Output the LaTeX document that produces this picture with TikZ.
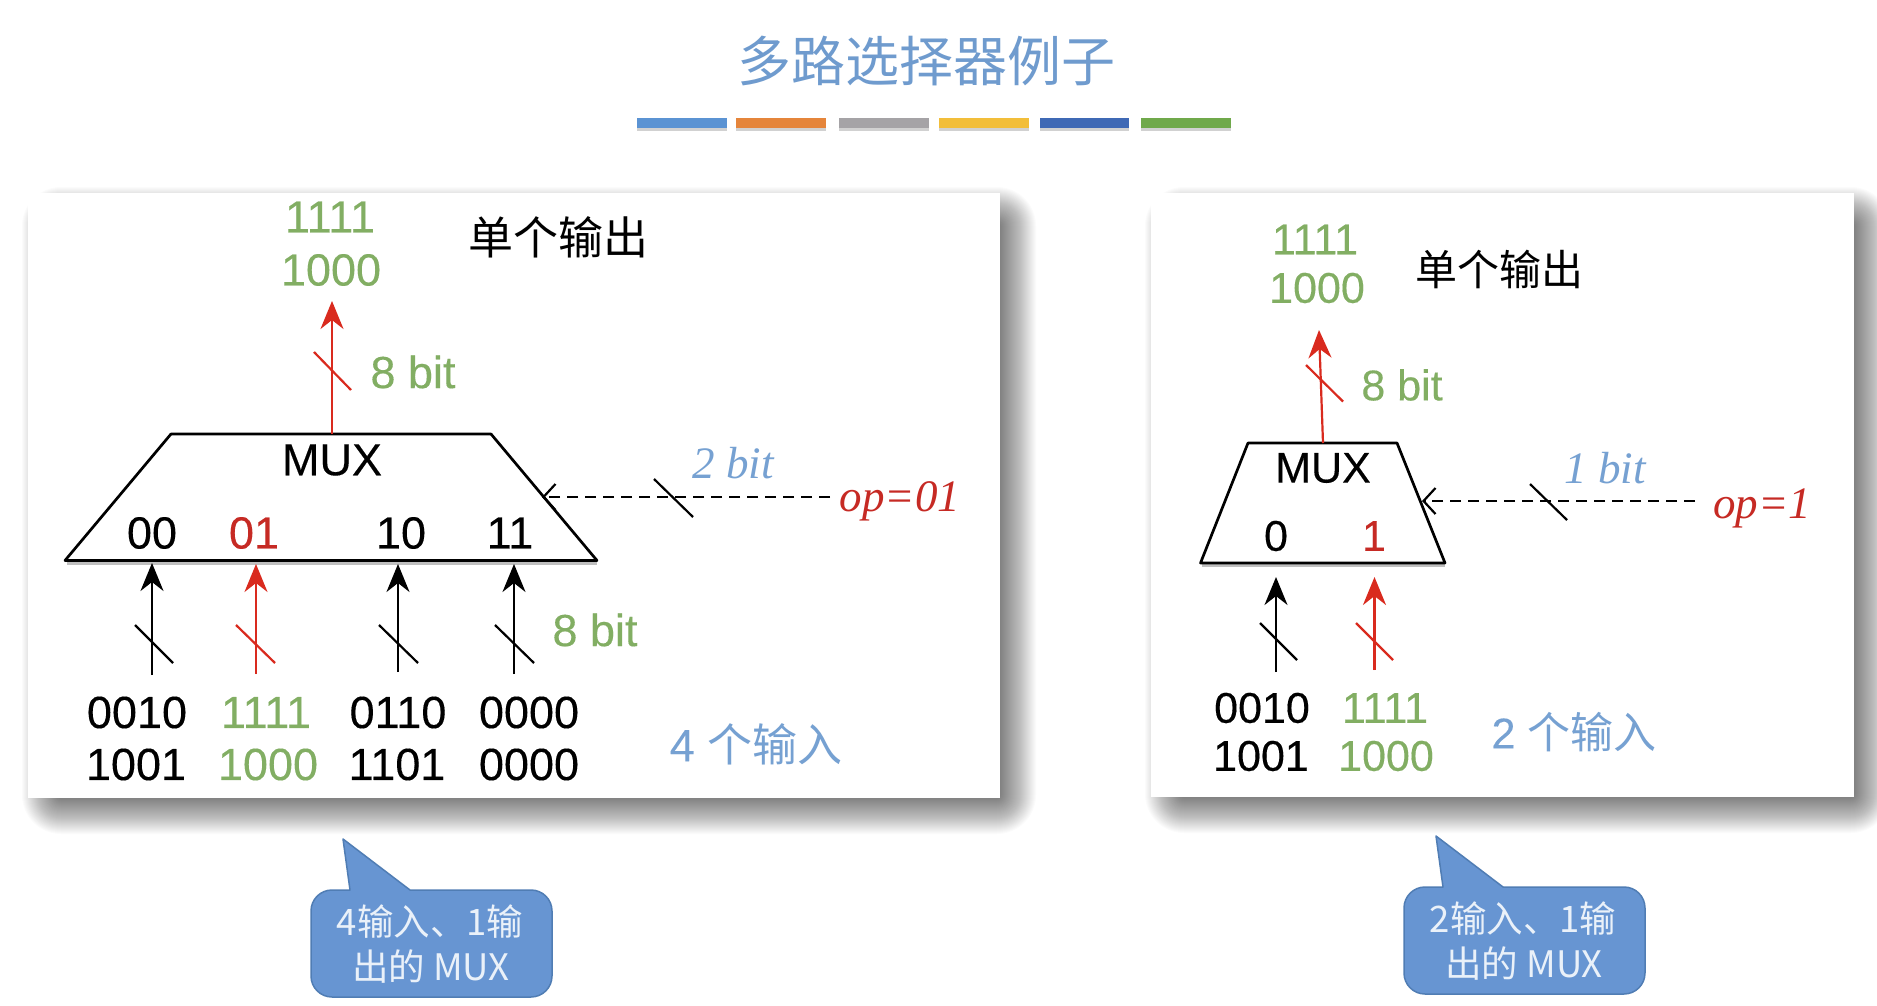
\documentclass[tikz,border=0pt]{standalone}
\usepackage{fontspec}
\setmainfont{Liberation Sans}
\newfontfamily\heavy[FakeBold=0.25]{Liberation Sans}
\newfontfamily\cjk{Noto Sans CJK SC}
\newfontfamily\serifit[ItalicFont={Liberation Serif Italic}]{Liberation Serif}
\usetikzlibrary{arrows.meta}
\definecolor{tblue}{HTML}{6F9BCE}
\definecolor{lblue}{HTML}{76A1D2}
\definecolor{tgreen}{HTML}{82AE63}
\definecolor{ared}{HTML}{D92A1E}
\definecolor{tred}{HTML}{C62A24}
\definecolor{cfill}{HTML}{6795D2}
\definecolor{cedge}{HTML}{507DB4}
\definecolor{ctext}{HTML}{EAF1F9}
\tikzset{
  lab/.style={inner sep=0pt,font=\heavy\fontsize{45}{50}\selectfont},
  labr/.style={inner sep=0pt,font=\heavy\fontsize{43}{48}\selectfont},
  cn/.style={inner sep=0pt,font=\cjk\fontsize{45}{50}\selectfont},
  cnr/.style={inner sep=0pt,font=\cjk\fontsize{42}{48}\selectfont},
  itl/.style={inner sep=0pt,font=\serifit\itshape\fontsize{45}{50}\selectfont},
  trap/.style={draw=black,line width=2.7pt,line join=round},
  wire/.style={line width=2.2pt,-{Stealth[length=28pt,width=23pt,inset=9pt]}},
  ctl/.style={line width=2.4pt,dashed,dash pattern=on 11pt off 7pt,-{Straight Barb[length=12pt,width=26pt,line width=2.2pt]}},
  slash/.style={line width=2.2pt},
  callout/.style={draw=cedge,fill=cfill,line width=1.5pt},
  calltext/.style={inner sep=0pt,text=ctext,font=\cjk\fontsize{36.5}{40}\selectfont}
}
\newcommand{\panelshadow}[4]{%
  \foreach \d in {1,2,...,36}{
    \fill[black,opacity=.016,rounded corners={\d*1pt+3pt}] ({#1+30-\d},{#2+30-\d}) rectangle ({#3+\d},{#4+\d});
  }
  \fill[white] (#1,#2) rectangle (#3,#4);
}
\begin{document}
\begin{tikzpicture}[x=1pt,y=-1pt]
\useasboundingbox (0,0) rectangle (1877,1006);
\fill[white] (0,0) rectangle (1877,1006);
% title
\node[inner sep=0pt,text=tblue,font=\cjk\fontsize{54}{60}\selectfont] (title) at (926,61) {多路选择器例子};
\foreach \a/\b/\c in {637/727/5B93D3,736/826/E5853B,839/929/A5A3A6,939/1029/F2BE3A,1040/1129/3F69B5,1141/1231/70A94B}{
  \fill[black!18] (\a,127) rectangle (\b,131);
  \definecolor{barc}{HTML}{\c}
  \fill[barc] (\a,118.5) rectangle (\b,128.5);
}
% panels
\panelshadow{28}{193}{1000}{798}
\panelshadow{1151}{193}{1854}{797}

% ---------- left MUX ----------
\fill[black!25] (67,561) rectangle (597,565);
\coordinate (LBL) at (65,560.5);
\coordinate (LBR) at (597,560.5);
\coordinate (LTL) at (171,434);
\coordinate (LTR) at (491,434);
\draw[trap] (LBL) -- (LTL) -- (LTR) -- (LBR) -- cycle;
\node[lab] (lmux) at (332,460) {MUX};
\node[lab] (l00) at (152,533) {00};
\node[lab,text=tred] (l01) at (254,533) {01};
\node[lab] (l10) at (401,533) {10};
\node[lab] (l11) at (510,533) {11};
\node[lab,text=tgreen] (lo1) at (330,217) {1111};
\node[lab,text=tgreen] (lo2) at (331,270) {1000};
\node[cn] (lsingle) at (558,237) {单个输出};
\node[lab,text=tgreen] (lb8a) at (413,372) {8 bit};
\node[lab,text=tgreen] (lb8b) at (595,630) {8 bit};
\node[lab] (li1a) at (137,712.5) {0010};
\node[lab] (li1b) at (136,764.5) {1001};
\node[lab,text=tgreen] (li2a) at (266,712.5) {1111};
\node[lab,text=tgreen] (li2b) at (268,764.5) {1000};
\node[lab] (li3a) at (398,712.5) {0110};
\node[lab] (li3b) at (397,764.5) {1101};
\node[lab] (li4a) at (529,712.5) {0000};
\node[lab] (li4b) at (529,764.5) {0000};
\node[lab,text=lblue] (lcnt) at (756,744) {4 {\cjk 个输入}};
\node[itl,text=lblue] (l2bit) at (733,463) {2 bit};
\node[itl,text=tred] (lop) at (900,501) {op=01};
% left wires
\coordinate (lout0) at (332,434); \coordinate (lout1) at (332,301);
\draw[wire,draw=ared,fill=ared] (lout0) -- (lout1);
\draw[slash,ared] (314,352) -- (351,390);
\coordinate (lw1a) at (152,675); \coordinate (lw1b) at (152,563);
\coordinate (lw2a) at (256,674); \coordinate (lw2b) at (256,564);
\coordinate (lw3a) at (398,672); \coordinate (lw3b) at (398,564);
\coordinate (lw4a) at (514,674); \coordinate (lw4b) at (514,564);
\draw[wire] (lw1a) -- (lw1b);
\draw[wire,draw=ared,fill=ared] (lw2a) -- (lw2b);
\draw[wire] (lw3a) -- (lw3b);
\draw[wire] (lw4a) -- (lw4b);
\draw[slash] (135,625) -- (173,663);
\draw[slash,ared] (236,625) -- (275,663);
\draw[slash] (379,625) -- (418,663);
\draw[slash] (495,625) -- (534,663);
\coordinate (lc0) at (830,497); \coordinate (lc1) at (542,497);
\draw[ctl] (lc0) -- (lc1);
\draw[slash] (654,479) -- (693,517);

% ---------- right MUX ----------
\fill[black!25] (1202,564) rectangle (1445,567);
\coordinate (RBL) at (1200.5,563);
\coordinate (RBR) at (1445,563);
\coordinate (RTL) at (1248,443);
\coordinate (RTR) at (1397,443);
\draw[trap] (RBL) -- (RTL) -- (RTR) -- (RBR) -- cycle;
\node[labr] (rmux) at (1323,468) {MUX};
\node[labr] (r0) at (1276,536) {0};
\node[labr,text=tred] (r1) at (1374,536) {1};
\node[labr,text=tgreen] (ro1) at (1315,239.5) {1111};
\node[labr,text=tgreen] (ro2) at (1317,288) {1000};
\node[cnr] (rsingle) at (1499,269) {单个输出};
\node[labr,text=tgreen] (rb8) at (1402,385) {8 bit};
\node[labr] (ri1a) at (1262,708) {0010};
\node[labr] (ri1b) at (1261,756) {1001};
\node[labr,text=tgreen] (ri2a) at (1385,708) {1111};
\node[labr,text=tgreen] (ri2b) at (1386,756) {1000};
\node[labr,text=lblue] (rcnt) at (1574,732) {2 {\cjk 个输入}};
\node[itl,text=lblue] (r1bit) at (1605,468) {1 bit};
\node[itl,text=tred] (rop) at (1762,508) {op=1};
% right wires
\coordinate (rout0) at (1323,443); \coordinate (rout1) at (1319,330);
\draw[wire,draw=ared,fill=ared] (rout0) -- (rout1);
\draw[slash,ared] (1306,365) -- (1343,401.5);
\coordinate (rw1a) at (1276,672); \coordinate (rw1b) at (1276,577);
\coordinate (rw2a) at (1374.5,670); \coordinate (rw2b) at (1374.5,577);
\draw[wire] (rw1a) -- (rw1b);
\draw[wire,draw=ared,fill=ared] (rw2a) -- (rw2b);
\draw[slash] (1260,623) -- (1297,660);
\draw[slash,ared] (1356,623) -- (1393,660);
\coordinate (rc0) at (1695,501); \coordinate (rc1) at (1422,501);
\draw[ctl] (rc0) -- (rc1);
\draw[slash] (1530,484) -- (1567,520);

% ---------- callouts ----------
\draw[callout,line join=round] (350,890) -- (343,839) -- (410,890) [rounded corners=21pt] -- (552,890) -- (552,997) -- (311,997) -- (311,890) [sharp corners] -- (350,890) -- cycle;
\node[calltext] (c1a) at (430,922) {4输入、1输};
\node[calltext] (c1b) at (431,967) {出的 MUX};
\draw[callout,line join=round] (1443,887) -- (1436,836) -- (1503,887) [rounded corners=21pt] -- (1645,887) -- (1645,994) -- (1404,994) -- (1404,887) [sharp corners] -- (1443,887) -- cycle;
\node[calltext] (c2a) at (1523,919) {2输入、1输};
\node[calltext] (c2b) at (1524,964) {出的 MUX};
\end{tikzpicture}
\end{document}
